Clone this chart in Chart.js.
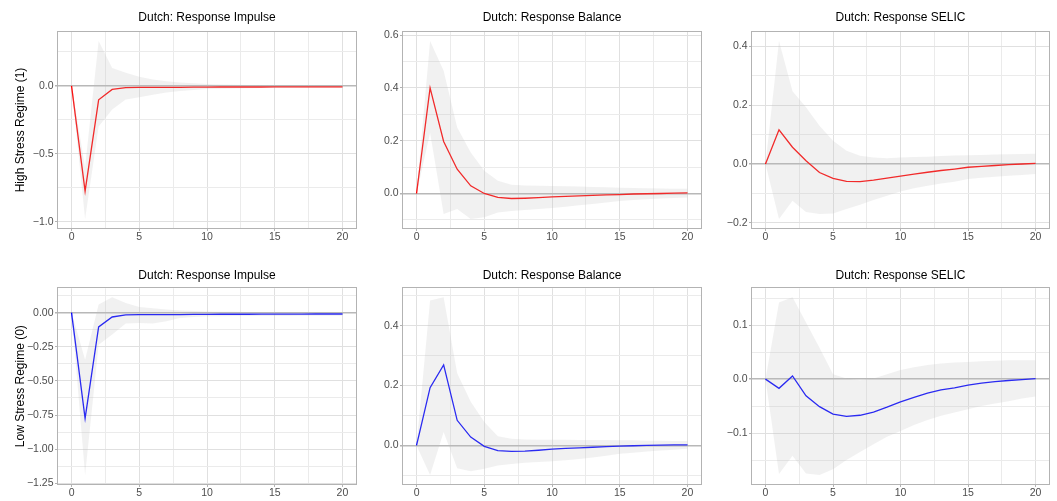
<!DOCTYPE html>
<html>
<head>
<meta charset="utf-8">
<script src="https://cdn.jsdelivr.net/npm/chart.js@4.4.1/dist/chart.umd.min.js"></script>
<style>
  body { margin: 0; background: #fff; }
  #wrap { position: relative; width: 1057px; height: 501px; overflow: hidden; background: #fff; }
  #wrap canvas { position: absolute; }
</style>
</head>
<body>
<div id="wrap"></div>
<script>
// --- data ---
const horizon = [0, 1, 2, 3, 4, 5, 6, 7, 8, 9, 10, 11, 12, 13, 14, 15, 16, 17, 18, 19, 20];

// High stress regime (1)
const hiImpulse    = [0, -0.775, -0.103, -0.027, -0.013, -0.012, -0.012, -0.011, -0.011, -0.010, -0.010, -0.009, -0.009, -0.009, -0.009, -0.008, -0.008, -0.008, -0.008, -0.008, -0.008];
const hiImpulseUp  = [0, -0.60, 0.33, 0.13, 0.095, 0.066, 0.046, 0.033, 0.025, 0.018, 0.013, 0.009, 0.007, 0.005, 0.004, 0.003, 0.002, 0.002, 0.001, 0.001, 0.001];
const hiImpulseLow = [0, -0.98, -0.30, -0.175, -0.10, -0.085, -0.066, -0.050, -0.038, -0.030, -0.024, -0.021, -0.019, -0.018, -0.017, -0.016, -0.016, -0.015, -0.015, -0.015, -0.015];

const hiBalance    = [0, 0.40, 0.197, 0.092, 0.029, 0.0, -0.015, -0.019, -0.018, -0.016, -0.013, -0.011, -0.009, -0.007, -0.005, -0.004, -0.002, -0.001, 0.0, 0.001, 0.002];
const hiBalanceUp  = [0, 0.578, 0.465, 0.25, 0.155, 0.086, 0.048, 0.033, 0.030, 0.029, 0.028, 0.027, 0.026, 0.025, 0.024, 0.022, 0.021, 0.020, 0.019, 0.018, 0.018];
const hiBalanceLow = [0, 0.23, -0.078, -0.059, -0.097, -0.090, -0.072, -0.066, -0.063, -0.059, -0.055, -0.050, -0.045, -0.040, -0.034, -0.028, -0.025, -0.022, -0.019, -0.017, -0.015];

const hiSelic    = [0, 0.116, 0.057, 0.011, -0.029, -0.049, -0.059, -0.060, -0.055, -0.048, -0.041, -0.034, -0.028, -0.022, -0.017, -0.011, -0.008, -0.005, -0.002, 0.0, 0.002];
const hiSelicUp  = [0, 0.418, 0.247, 0.193, 0.13, 0.079, 0.045, 0.028, 0.022, 0.020, 0.022, 0.024, 0.025, 0.027, 0.029, 0.030, 0.031, 0.032, 0.033, 0.034, 0.035];
const hiSelicLow = [0, -0.187, -0.125, -0.163, -0.170, -0.168, -0.153, -0.138, -0.122, -0.108, -0.093, -0.082, -0.074, -0.066, -0.060, -0.051, -0.047, -0.043, -0.040, -0.037, -0.034];

// Low stress regime (0)
const loImpulse    = [0, -0.775, -0.105, -0.032, -0.017, -0.015, -0.015, -0.014, -0.014, -0.013, -0.013, -0.012, -0.012, -0.012, -0.011, -0.011, -0.011, -0.011, -0.010, -0.010, -0.010];
const loImpulseUp  = [0, -0.345, 0.059, 0.113, 0.071, 0.042, 0.032, 0.022, 0.015, 0.011, 0.008, 0.007, 0.006, 0.005, 0.005, 0.005, 0.005, 0.005, 0.005, 0.005, 0.005];
const loImpulseLow = [0, -1.19, -0.235, -0.16, -0.08, -0.076, -0.08, -0.064, -0.040, -0.032, -0.027, -0.026, -0.025, -0.025, -0.025, -0.024, -0.024, -0.023, -0.023, -0.022, -0.022];

const loBalance    = [0, 0.193, 0.269, 0.084, 0.028, -0.003, -0.017, -0.020, -0.019, -0.016, -0.012, -0.010, -0.008, -0.006, -0.004, -0.002, -0.001, 0.0, 0.001, 0.002, 0.002];
const loBalanceUp  = [0, 0.484, 0.495, 0.241, 0.146, 0.078, 0.031, 0.022, 0.020, 0.019, 0.019, 0.019, 0.018, 0.018, 0.018, 0.017, 0.017, 0.016, 0.016, 0.015, 0.015];
const loBalanceLow = [0, -0.099, 0.045, -0.076, -0.086, -0.078, -0.067, -0.062, -0.058, -0.055, -0.053, -0.049, -0.045, -0.040, -0.034, -0.028, -0.024, -0.020, -0.017, -0.014, -0.011];

const loSelic    = [0, -0.017, 0.006, -0.031, -0.051, -0.065, -0.069, -0.067, -0.061, -0.052, -0.042, -0.034, -0.026, -0.020, -0.016, -0.011, -0.0075, -0.0045, -0.0025, -0.001, 0.001];
const loSelicUp  = [0, 0.142, 0.152, 0.105, 0.058, 0.009, 0.001, -0.002, 0.001, 0.009, 0.017, 0.022, 0.026, 0.029, 0.031, 0.032, 0.033, 0.034, 0.035, 0.035, 0.035];
const loSelicLow = [0, -0.176, -0.142, -0.175, -0.178, -0.167, -0.150, -0.135, -0.121, -0.107, -0.096, -0.085, -0.076, -0.068, -0.062, -0.056, -0.050, -0.045, -0.041, -0.036, -0.032];

const panelTitles  = ['Dutch: Response Impulse', 'Dutch: Response Balance', 'Dutch: Response SELIC'];
const regimeLabels = ['High Stress Regime (1)', 'Low Stress Regime (0)'];
const lineColours  = ['#ff0000', '#0000ff'];
const xTickStep    = 5;
const yTickSteps   = [[0.5, 0.2, 0.2], [0.25, 0.2, 0.1]];
const yTickDigits  = [[1, 1, 1], [2, 1, 1]];

const series = [
  [[hiImpulse, hiImpulseLow, hiImpulseUp], [hiBalance, hiBalanceLow, hiBalanceUp], [hiSelic, hiSelicLow, hiSelicUp]],
  [[loImpulse, loImpulseLow, loImpulseUp], [loBalance, loBalanceLow, loBalanceUp], [loSelic, loSelicLow, loSelicUp]]
];

// --- layout of the 2x3 grid ---
const cols = [
  { left: 0,   width: 375, axisW: 58, padR: 19 },
  { left: 375, width: 345, axisW: 28, padR: 19 },
  { left: 720, width: 337, axisW: 32, padR: 8 }
];
const rows = [
  { top: 0,   height: 250, titleTop: 10.3, titleBottom: 7.3, axisH: 14, padB: 8 },
  { top: 250, height: 251, titleTop: 18.8, titleBottom: 5.1, axisH: 14, padB: 3 }
];

Chart.defaults.font.family = '"Liberation Sans", Arial, Helvetica, sans-serif';
Chart.defaults.color = '#4d4d4d';

const GRID_MAJOR = '#e0e0e0';
const GRID_MINOR = '#ebebeb';
const ZERO_LINE = '#b8b8b8';
const TICK_MARK = '#b3b3b3';

function isMajor(v, step) {
  return Math.abs(Math.round(v / (step / 2))) % 2 === 0;
}

// major + minor ticks (ggplot style), minor ones get no label
function gridTicks(min, max, step) {
  const half = step / 2;
  const out = [];
  for (let k = Math.ceil(min / half - 1e-9); k * half <= max + 1e-9; k++) {
    out.push({ value: +(k * half).toFixed(6) });
  }
  return out;
}

function fmt(v, digits) {
  const s = Math.abs(v) < 1e-9 ? (0).toFixed(digits) : v.toFixed(digits);
  return s.replace('-', '\u2212');
}

// grey frame round the panel
const panelBorder = {
  id: 'panelBorder',
  afterDraw(chart) {
    const { ctx, chartArea: a } = chart;
    ctx.save();
    ctx.strokeStyle = '#b3b3b3';
    ctx.lineWidth = 1;
    ctx.strokeRect(Math.round(a.left) - 0.5, Math.round(a.top) - 0.5,
      Math.round(a.right) - Math.round(a.left) + 1, Math.round(a.bottom) - Math.round(a.top) + 1);
    ctx.restore();
  }
};

const wrap = document.getElementById('wrap');

rows.forEach((row, r) => {
  cols.forEach((col, c) => {
    const [line, low, up] = series[r][c];
    const all = line.concat(low, up);
    const lo = Math.min(...all), hi = Math.max(...all);
    const yMin = lo - 0.05 * (hi - lo);
    const yMax = hi + 0.05 * (hi - lo);
    const yStep = yTickSteps[r][c];
    const digits = yTickDigits[r][c];

    const canvas = document.createElement('canvas');
    canvas.width = col.width;
    canvas.height = row.height;
    canvas.style.left = col.left + 'px';
    canvas.style.top = row.top + 'px';
    wrap.appendChild(canvas);

    const pts = arr => horizon.map((h, i) => ({ x: h, y: arr[i] }));

    new Chart(canvas, {
      type: 'line',
      data: {
        datasets: [
          { data: pts(low), borderWidth: 0, pointRadius: 0, fill: false },
          { data: pts(up), borderWidth: 0, pointRadius: 0, fill: '-1', backgroundColor: 'rgba(190,190,190,0.22)' },
          { data: pts(line), borderColor: lineColours[r], borderWidth: 1.3, pointRadius: 0, fill: false, tension: 0 }
        ]
      },
      options: {
        responsive: false,
        animation: false,
        events: [],
        layout: { padding: { top: 0, left: 0, right: col.padR, bottom: row.padB } },
        plugins: {
          legend: { display: false },
          tooltip: { enabled: false },
          title: {
            display: true,
            text: panelTitles[c],
            fullSize: false,
            color: '#000',
            font: { size: 12, weight: 'normal' },
            padding: { top: row.titleTop, bottom: row.titleBottom }
          }
        },
        scales: {
          x: {
            type: 'linear',
            min: -1,
            max: 21,
            afterBuildTicks: s => { s.ticks = gridTicks(-1, 21, xTickStep); },
            afterFit: s => { s.height = row.axisH; },
            border: { display: false },
            grid: {
              color: ctx => isMajor(ctx.tick.value, xTickStep) ? GRID_MAJOR : GRID_MINOR,
              tickColor: ctx => isMajor(ctx.tick.value, xTickStep) ? TICK_MARK : 'rgba(0,0,0,0)',
              lineWidth: 1,
              tickLength: 3
            },
            ticks: {
              autoSkip: false,
              maxRotation: 0,
              padding: 0,
              color: '#4d4d4d',
              font: { size: 10.5 },
              callback: v => isMajor(v, xTickStep) ? String(v) : ''
            }
          },
          y: {
            type: 'linear',
            min: yMin,
            max: yMax,
            afterBuildTicks: s => { s.ticks = gridTicks(yMin, yMax, yStep); },
            afterFit: s => { s.width = col.axisW; },
            border: { display: false },
            grid: {
              color: ctx => Math.abs(ctx.tick.value) < 1e-9 ? ZERO_LINE : (isMajor(ctx.tick.value, yStep) ? GRID_MAJOR : GRID_MINOR),
              lineWidth: ctx => Math.abs(ctx.tick.value) < 1e-9 ? 1.5 : 1,
              tickColor: ctx => isMajor(ctx.tick.value, yStep) ? TICK_MARK : 'rgba(0,0,0,0)',
              tickLength: 3
            },
            ticks: {
              autoSkip: false,
              padding: 1.5,
              color: '#4d4d4d',
              font: { size: 10.5 },
              callback: v => isMajor(v, yStep) ? fmt(v, digits) : ''
            },
            title: {
              display: c === 0,
              text: regimeLabels[r],
              color: '#000',
              font: { size: 12 },
              padding: { top: 13.3, bottom: 0 }
            }
          }
        }
      },
      plugins: [panelBorder]
    });
  });
});
</script>
</body>
</html>
